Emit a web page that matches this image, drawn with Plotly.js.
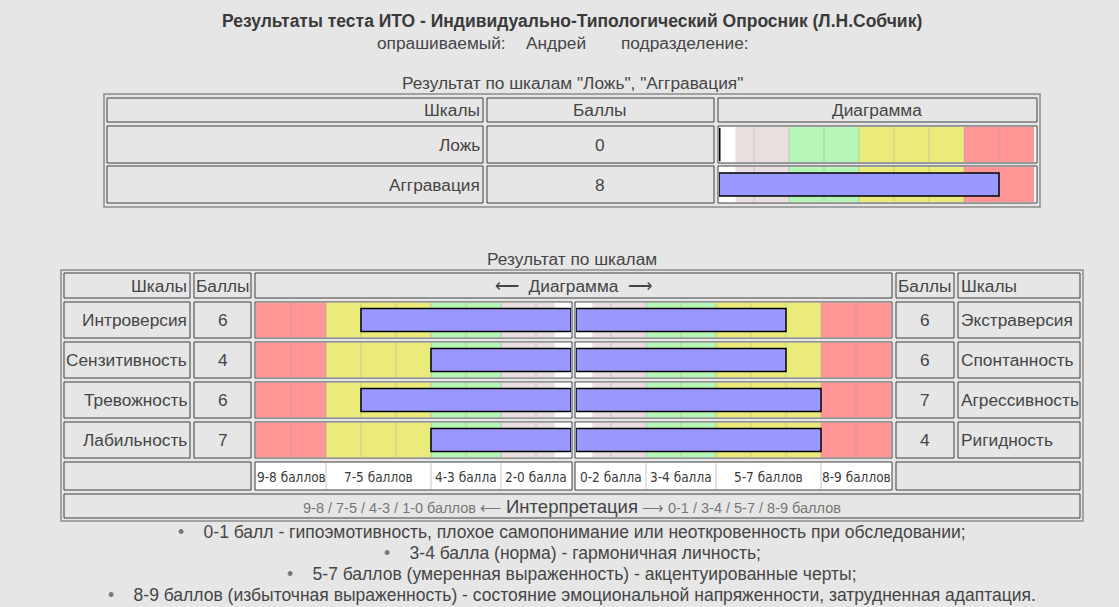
<!DOCTYPE html>
<html><head><meta charset="utf-8">
<script src="https://cdn.plot.ly/plotly-3.0.1.min.js"></script>
<style>html,body{margin:0;padding:0;background:#e6e6e6;}#chart{width:1119px;height:607px;}</style>
</head><body><div id="chart"></div>
<script>
const W = 1119, H = 607;

// ---------- data ----------
const pageTitle = 'Результаты теста ИТО - Индивидуально-Типологический Опросник (Л.Н.Собчик)';
const subjectLabel = 'опрашиваемый:';
const subjectName = 'Андрей';
const unitLabel = 'подразделение:';

const lieTitle = 'Результат по шкалам "Ложь", "Аггравация"';
const lieScales = ['Ложь', 'Аггравация'];
const lieScores = [0, 8];

const mainTitle = 'Результат по шкалам';
const leftScales = ['Интроверсия', 'Сензитивность', 'Тревожность', 'Лабильность'];
const leftScores = [6, 4, 6, 7];
const leftBars = [6, 4, 6, 4];
const rightScales = ['Экстраверсия', 'Спонтанность', 'Агрессивность', 'Ригидность'];
const rightScores = [6, 6, 7, 4];
const rightBars = [6, 6, 7, 7];

const zoneEdges = [0, 0.47, 2, 4, 7, 9];
const zoneColors = ['#ffffff', '#e9dfdf', '#b5f5b5', '#ebeb7b', '#ff9595'];
const legendEdges = [0, 2, 4, 7, 9];
const legendLeft = ['2-0 балла', '4-3 балла', '7-5 баллов', '9-8 баллов'];
const legendRight = ['0-2 балла', '3-4 балла', '5-7 баллов', '8-9 баллов'];
const interpLeft = '9-8 / 7-5 / 4-3 / 1-0 баллов ⟵ ';
const interpMid = 'Интерпретация';
const interpRight = ' ⟶ 0-1 / 3-4 / 5-7 / 8-9 баллов';
const notes = [
  '0-1 балл - гипоэмотивность, плохое самопонимание или неоткровенность при обследовании;',
  '3-4 балла (норма) - гармоничная личность;',
  '5-7 баллов (умеренная выраженность) - акцентуированные черты;',
  '8-9 баллов (избыточная выраженность) - состояние эмоциональной напряженности, затрудненная адаптация.'
];

// ---------- helpers ----------
const PX = x => x / W;
const PY = y => 1 - y / H;
const FONT = 'Liberation Sans, Arial, sans-serif';
const NARROW = '"Liberation Sans Narrow", "Arial Narrow", "DejaVu Sans Condensed", sans-serif';
const TXT = '#454545';
const FS = 17.3;
const shapes = [];
const annotations = [];

function cell(x0, y0, x1, y1, fill, color, width) {
  shapes.push({type: 'rect', xref: 'paper', yref: 'paper', layer: 'below',
    x0: PX(x0), x1: PX(x1), y0: PY(y1), y1: PY(y0),
    fillcolor: fill || 'rgba(0,0,0,0)', line: {color: color || '#3e3e3e', width: width || 1}});
}
function outer(x0, y0, x1, y1) { cell(x0, y0, x1, y1, null, '#8c8c8c', 1.5); }
function text(t, x, y, anchor, size, color, family, bold) {
  annotations.push({text: bold ? '<b>' + t + '</b>' : t, xref: 'paper', yref: 'paper',
    x: PX(x), y: PY(y), xanchor: anchor || 'center', yanchor: 'middle', showarrow: false,
    borderpad: 0, font: {family: family || FONT, size: size || FS, color: color || TXT}});
}
function zones(xref, yref, rows, half) {
  rows.forEach((_, i) => {
    for (let k = 0; k < zoneColors.length; k++) {
      shapes.push({type: 'rect', xref: xref, yref: yref, layer: 'below',
        x0: zoneEdges[k], x1: zoneEdges[k + 1], y0: i - half, y1: i + half,
        fillcolor: zoneColors[k], line: {width: 0}});
    }
    for (let u = 1; u < 9; u++) {
      shapes.push({type: 'line', xref: xref, yref: yref, layer: 'below',
        x0: u, x1: u, y0: i - half, y1: i + half,
        line: {color: 'rgba(160,160,160,0.45)', width: 1}});
    }
  });
}

// ---------- header texts ----------
text(pageTitle, 572, 21, 'center', 17.5, '#3a3a3a', FONT, true);
text(subjectLabel, 376, 43, 'left');
text(subjectName, 525, 43, 'left');
text(unitLabel, 620, 43, 'left');

// ---------- table 1 ----------
text(lieTitle, 572, 83);
outer(104, 94, 1040, 207);
cell(107, 98, 483, 122); cell(487, 98, 714, 122); cell(718, 98, 1037, 122);
[126, 166].forEach(y => {
  cell(107, y, 483, y + 37); cell(487, y, 714, y + 37); cell(718, y, 1037, y + 37, '#ffffff');
});
text('Шкалы', 481, 110, 'right');
text('Баллы', 600, 110);
text('Диаграмма', 877, 110);
lieScales.forEach((s, i) => {
  text(s, 481, 144.5 + 40 * i, 'right');
  text(String(lieScores[i]), 600, 144.5 + 40 * i);
});
zones('x', 'y', lieScales, 0.44);

// ---------- table 2 ----------
text(mainTitle, 572, 259);
outer(61, 270, 1083, 521);
cell(64, 273, 190, 298); cell(194, 273, 251, 298); cell(255, 273, 892, 298);
cell(896, 273, 954, 298); cell(958, 273, 1080, 298);
text('Шкалы', 188, 285.5, 'right');
text('Баллы', 222.5, 285.5);
text('⟵  Диаграмма  ⟶', 573, 285.5);
text('Баллы', 925, 285.5);
text('Шкалы', 960, 285.5, 'left');
for (let i = 0; i < 4; i++) {
  const y = 302 + 40 * i;
  cell(64, y, 190, y + 36); cell(194, y, 251, y + 36);
  cell(255, y, 572, y + 36, '#ffffff'); cell(575, y, 892, y + 36, '#ffffff');
  cell(896, y, 954, y + 36); cell(958, y, 1080, y + 36);
  text(leftScales[i], 188, y + 18, 'right');
  text(String(leftScores[i]), 222.5, y + 18);
  text(String(rightScores[i]), 925, y + 18);
  text(rightScales[i], 960, y + 18, 'left');
}
zones('x2', 'y2', leftScales, 0.43);
zones('x3', 'y3', rightScales, 0.43);

// legend row
cell(64, 462, 251, 490); cell(255, 462, 572, 490, '#ffffff'); cell(575, 462, 892, 490, '#ffffff'); cell(896, 462, 1080, 490);
[['x2', legendLeft], ['x3', legendRight]].forEach(([xr, labels]) => {
  labels.forEach((lab, k) => {
    const a = legendEdges[k], b = legendEdges[k + 1];
    annotations.push({text: lab, xref: xr, yref: 'paper', x: (a + b) / 2, y: PY(476.5),
      xanchor: 'center', yanchor: 'middle', showarrow: false, borderpad: 0,
      font: {family: NARROW, size: 13.5, color: '#3a3a3a'}});
    if (k > 0) shapes.push({type: 'line', xref: xr, yref: 'paper', layer: 'below',
      x0: a, x1: a, y0: PY(489), y1: PY(463), line: {color: '#c8c8c8', width: 1}});
  });
});

// interpretation row
cell(64, 494, 1080, 518);
text('<span style="font-size:14.5px;color:#777">' + interpLeft + '</span>' + interpMid +
     '<span style="font-size:14.5px;color:#777">' + interpRight + '</span>', 572, 506, 'center', 18.5, '#454545');

// notes
notes.forEach((n, i) => {
  text('<span style="color:#777">•</span>\u00a0\u00a0\u00a0\u00a0' + n, 572, 532 + 21 * i, 'center', 17.5, '#454545');
});

// ---------- traces ----------
const barStyle = {color: '#9999ff', line: {color: '#000000', width: 1.5}};
function zeroMarks(vals, cats, xa, ya) {
  const xs = [], ys = [];
  vals.forEach((v, i) => { if (v === 0) { xs.push(v); ys.push(cats[i]); } });
  return {type: 'scatter', mode: 'markers', x: xs, y: ys, xaxis: xa, yaxis: ya, hoverinfo: 'skip',
    marker: {symbol: 'line-ns-open', size: 24, color: '#000', line: {color: '#000', width: 3}}};
}
const traces = [
  {type: 'bar', orientation: 'h', x: lieScores, y: lieScales, xaxis: 'x', yaxis: 'y', width: 0.575, marker: barStyle, hoverinfo: 'skip'},
  zeroMarks(lieScores, lieScales, 'x', 'y'),
  {type: 'bar', orientation: 'h', x: leftBars, y: leftScales, xaxis: 'x2', yaxis: 'y2', width: 0.575, marker: barStyle, hoverinfo: 'skip'},
  {type: 'bar', orientation: 'h', x: rightBars, y: rightScales, xaxis: 'x3', yaxis: 'y3', width: 0.575, marker: barStyle, hoverinfo: 'skip'}
];

const hid = {visible: false, fixedrange: true, showgrid: false, zeroline: false};
const layout = {
  width: W, height: H, margin: {l: 0, r: 0, t: 0, b: 0, pad: 0},
  paper_bgcolor: '#e6e6e6', plot_bgcolor: 'rgba(0,0,0,0)', showlegend: false,
  xaxis: Object.assign({}, hid, {domain: [PX(719), PX(1034)], range: [0, 9], anchor: 'y'}),
  yaxis: Object.assign({}, hid, {domain: [PY(204.5), PY(124.5)], type: 'category', categoryarray: lieScales, range: [1.5, -0.5], anchor: 'x'}),
  xaxis2: Object.assign({}, hid, {domain: [PX(256), PX(571)], range: [9, 0], anchor: 'y2'}),
  yaxis2: Object.assign({}, hid, {domain: [PY(460), PY(300)], type: 'category', categoryarray: leftScales, range: [3.5, -0.5], anchor: 'x2'}),
  xaxis3: Object.assign({}, hid, {domain: [PX(576), PX(891)], range: [0, 9], anchor: 'y3'}),
  yaxis3: Object.assign({}, hid, {domain: [PY(460), PY(300)], type: 'category', categoryarray: rightScales, range: [3.5, -0.5], anchor: 'x3'}),
  shapes: shapes, annotations: annotations, bargap: 0
};
Plotly.newPlot('chart', traces, layout, {staticPlot: true, displayModeBar: false});
</script></body></html>
